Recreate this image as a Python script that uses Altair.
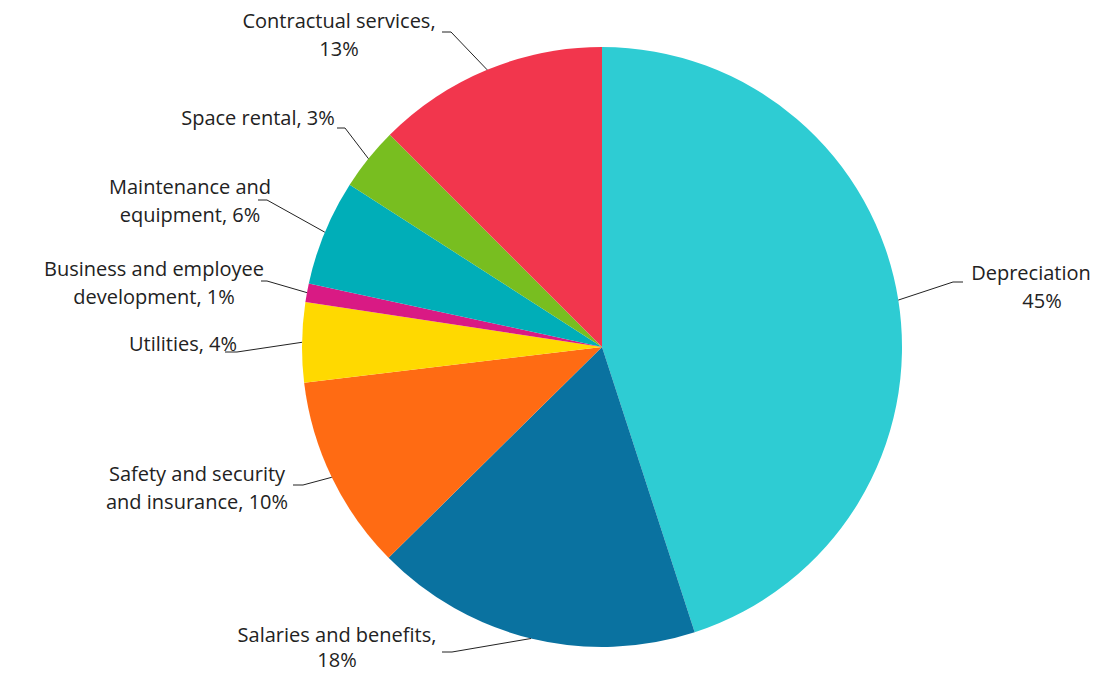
import math
import altair as alt
import pandas as pd

# ---- data ----
categories = [
    "Depreciation",
    "Salaries and benefits",
    "Safety and security and insurance",
    "Utilities",
    "Business and employee development",
    "Maintenance and equipment",
    "Space rental",
    "Contractual services",
]
values = [45.0, 17.6, 10.5, 4.3, 1.0, 5.7, 3.4, 12.5]
label_lines = [
    ["Depreciation", "45%"],
    ["Salaries and benefits,", "18%"],
    ["Safety and security", "and insurance, 10%"],
    ["Utilities, 4%"],
    ["Business and employee", "development, 1%"],
    ["Maintenance and", "equipment, 6%"],
    ["Space rental, 3%"],
    ["Contractual services,", "13%"],
]
colors = ["#2ECCD3", "#0A72A0", "#FF6B13", "#FFD900", "#D91A84", "#00AEB8", "#78BE20", "#F2364D"]

# ---- layout (pixel offsets from pie centre) ----
elbow = [(351, -65), (-150, 305), (-299, 138), (-365, 5), (-335, -66), (-335, -147), (-257, -219), (-151, -315)]
tail = [10, -10, -10, -12, -6, -9, -8, -9]
text_pos = [(434, -73), (-265, 289), (-405, 128), (-419, -2), (-448, -77), (-412, -159), (-344, -228), (-263, -325)]
line_dx = [[-5, 6], [0, 0], [0, 0], [0], [0, 0], [0, 0], [0], [0, 0]]
line_step = [28, 25, 28, 28, 28, 28, 28, 28]

W, H = 1083, 665
CX, CY = 594, 339
R = 300

df = pd.DataFrame({"category": categories, "value": values, "idx": range(len(categories))})

total = sum(values)
cum = 0.0
line_rows, text_rows = [], []
for i, (c, v) in enumerate(zip(categories, values)):
    mid = (cum + v / 2) / total
    cum += v
    a = 2 * math.pi * mid
    ex, ey = elbow[i]
    pts = [
        (math.sin(a), math.cos(a)),
        (ex / R, -ey / R),
        ((ex + tail[i]) / R, -ey / R),
    ]
    for k, (u, w) in enumerate(pts):
        line_rows.append({"category": c, "pt": k, "u": u, "v": w})
    tx, ty = text_pos[i]
    for k, s in enumerate(label_lines[i]):
        text_rows.append({"category": c, "line": s,
                          "u": (tx + line_dx[i][k]) / R,
                          "v": -(ty + k * line_step[i]) / R})

lines_df = pd.DataFrame(line_rows)
text_df = pd.DataFrame(text_rows)

xscale = alt.Scale(domain=[-CX / R, (W - CX) / R], nice=False, zero=False)
yscale = alt.Scale(domain=[(CY - H) / R, CY / R], nice=False, zero=False)

pie = alt.Chart(df).mark_arc(outerRadius=R).encode(
    theta=alt.Theta("value:Q", stack=True),
    color=alt.Color("category:N", scale=alt.Scale(domain=categories, range=colors), legend=None),
    order=alt.Order("idx:Q"),
    x=alt.value(CX),
    y=alt.value(CY),
)

leaders = alt.Chart(lines_df).mark_line(color="#222222", strokeWidth=1).encode(
    x=alt.X("u:Q", scale=xscale, axis=None),
    y=alt.Y("v:Q", scale=yscale, axis=None),
    detail="category:N",
    order=alt.Order("pt:Q"),
)

labels = alt.Chart(text_df).mark_text(
    font="Open Sans", fontSize=20, color="#222222", align="center", baseline="middle"
).encode(
    x=alt.X("u:Q", scale=xscale, axis=None),
    y=alt.Y("v:Q", scale=yscale, axis=None),
    text="line:N",
)

chart = alt.layer(pie, leaders, labels).properties(
    width=W, height=H, padding=0, autosize=alt.AutoSizeParams(type="none"),
    background="white",
).configure_view(stroke=None)

chart.save("out.html", embed_options={"renderer": "svg", "actions": False})
